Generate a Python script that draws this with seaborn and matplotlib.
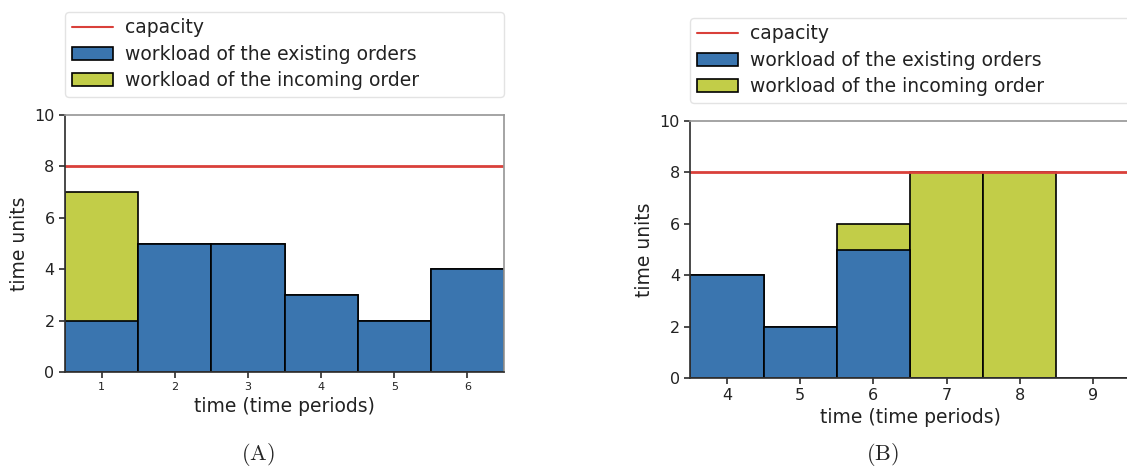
import matplotlib
matplotlib.use("Agg")
import matplotlib.pyplot as plt
from matplotlib.lines import Line2D
from matplotlib.patches import Patch
import pandas as pd
import seaborn as sns

# data
periods_a = [1, 2, 3, 4, 5, 6]
existing_a = [2, 5, 5, 3, 2, 4]
incoming_a = [5, 0, 0, 0, 0, 0]

periods_b = [4, 5, 6, 7, 8, 9]
existing_b = [4, 2, 5, 0, 0, 0]
incoming_b = [0, 0, 1, 8, 8, 0]

capacity = 8
legend_labels = ["capacity", "workload of the existing orders", "workload of the incoming order"]

BLUE = "#3a75af"
GREEN = "#c2cd48"
RED = "#d9403a"

sns.set_theme(style="ticks")
plt.rcParams["font.family"] = ["DejaVu Sans"]
plt.rcParams["mathtext.fontset"] = "cm"

fig = plt.figure(figsize=(11.27, 4.68), dpi=100)
ax_a = fig.add_axes([0.0577, 0.2051, 0.3895, 0.5491])
ax_b = fig.add_axes([0.6126, 0.1923, 0.3897, 0.5491])


def draw_panel(ax, periods, existing, incoming, xtick_size):
    df = pd.DataFrame({"period": periods, "existing": existing, "incoming": incoming})
    df["total"] = df["existing"] + df["incoming"]
    # total first (green), existing on top (blue) -> stacked look
    sns.barplot(data=df, x="period", y="total", native_scale=True, width=1,
                color=GREEN, saturation=1, errorbar=None,
                edgecolor="black", linewidth=1.2, ax=ax)
    sns.barplot(data=df, x="period", y="existing", native_scale=True, width=1,
                color=BLUE, saturation=1, errorbar=None,
                edgecolor="black", linewidth=1.2, ax=ax)
    ax.axhline(capacity, color=RED, lw=2)
    ax.set_xlim(periods[0] - 0.5, periods[-1] + 0.5)
    ax.set_ylim(0, 10)
    ax.set_xticks(periods)
    ax.set_yticks([0, 2, 4, 6, 8, 10])
    ax.tick_params(axis="x", labelsize=xtick_size, length=4, color="#333333", labelcolor="#222222")
    ax.tick_params(axis="y", labelsize=11.5, length=4, color="#333333", labelcolor="#222222")
    ax.set_xlabel("time (time periods)", fontsize=13.5, labelpad=3, color="#222222")
    ax.set_ylabel("time units", fontsize=13.5, color="#222222")
    for side in ["top", "right"]:
        ax.spines[side].set_color("#999999")
    for side in ["left", "bottom"]:
        ax.spines[side].set_color("#333333")

    handles = [
        Line2D([0], [0], color=RED, lw=1.5),
        Patch(facecolor=BLUE, edgecolor="black", linewidth=1.2),
        Patch(facecolor=GREEN, edgecolor="black", linewidth=1.2),
    ]
    leg = ax.legend(handles, legend_labels, loc="lower left", mode="expand",
                    bbox_to_anchor=(0, 1.07, 1, 0.3), borderaxespad=0,
                    fontsize=13.5, handlelength=2.2, handletextpad=0.65,
                    borderpad=0.35, labelspacing=0.4, frameon=True,
                    edgecolor="#dddddd")
    for t in leg.get_texts():
        t.set_color("#222222")


draw_panel(ax_a, periods_a, existing_a, incoming_a, 8)
draw_panel(ax_b, periods_b, existing_b, incoming_b, 11.5)

fig.text(0.229, 0.028, r"$(\mathrm{A})$", ha="center", va="center", fontsize=16)
fig.text(0.783, 0.028, r"$(\mathrm{B})$", ha="center", va="center", fontsize=16)

fig.savefig("out.png", dpi=100)
